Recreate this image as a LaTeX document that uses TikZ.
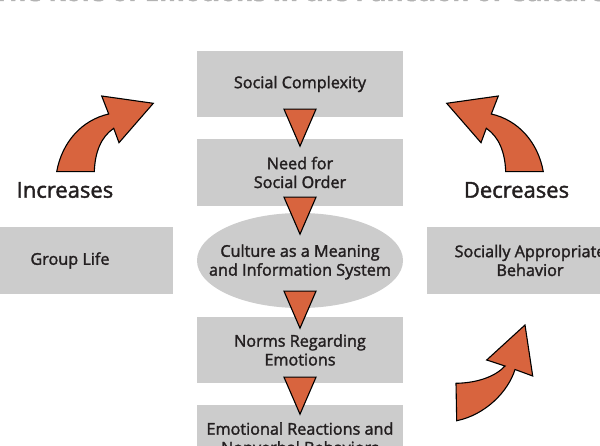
\documentclass[tikz,border=0pt]{standalone}
\usepackage{fontspec}
\setmainfont{Open Sans}[RawFeature={embolden=1.8}]
\usetikzlibrary{shapes.geometric,calc}
\definecolor{boxgray}{RGB}{204,204,204}
\definecolor{arrorange}{RGB}{216,100,62}
\definecolor{txt}{RGB}{35,31,32}
\newcommand\downtri[1]{\draw[tri] ($(#1)+(-16,0)$) -- ($(#1)+(16,0)$) -- ($(#1)+(0,37)$) -- cycle;}
\begin{document}
\begin{tikzpicture}[x=1pt,y=-1pt,
  box/.style={fill=boxgray, minimum width=206pt, minimum height=66pt, inner sep=0pt, align=center, text=txt, font=\fontsize{16.2}{18.8}\selectfont},
  ell/.style={ellipse, fill=boxgray, minimum width=206pt, minimum height=95pt, inner sep=0pt},
  txtstyle/.style={align=center, text=txt, font=\fontsize{16.2}{18.8}\selectfont, inner sep=0pt},
  tri/.style={fill=arrorange, draw=black, line width=1.1pt, line join=miter},
  bigarrow/.style={fill=arrorange, draw=black, line width=1.1pt, line join=miter},
  lbl/.style={text=txt, font=\fontsize{22}{24}\selectfont, inner sep=0pt}]
\useasboundingbox (0,0) rectangle (600,446);
\begin{scope}
\clip (0,0) rectangle (600,446);
\node[anchor=base, font=\fontsize{26}{30}\selectfont\bfseries, text=black!30] (title) at (300,1) {The Role of Emotions in the Function of Culture};
% central column
\node[box, minimum height=66pt] (sc) at (300,84) {Social Complexity};
\node[box, minimum height=67pt] (nso) at (300,172.5) {Need for\\Social Order};
\node[ell] (cu) at (300,260.5) {};
\node[txtstyle] (cut) at (300,262) {Culture as a Meaning\\and Information System};
\node[box, minimum height=66pt] (nre) at (300,350) {Norms Regarding\\Emotions};
\node[box, minimum height=66pt] (er) at (300,438) {Emotional Reactions and\\Nonverbal Behaviors};
% side boxes
\node[box, minimum height=67pt] (gl) at (70,260.5) {Group Life};
\node[box, minimum height=67pt] (sab) at (530,260.5) {Socially Appropriate\\Behavior};
% triangles
\coordinate (t1) at ($(sc.south)+(0,-8)$);
\coordinate (t2) at ($(nso.south)+(0,-9)$);
\coordinate (t3) at ($(cu.south)+(0,-17)$);
\coordinate (t4) at ($(nre.south)+(0,-6)$);
\downtri{t1}
\downtri{t2}
\downtri{t3}
\downtri{t4}
% labels
\node[lbl] (inc) at (65,190) {Increases};
\node[lbl] (dec) at (516.5,190) {Decreases};
% curved arrows
\draw[bigarrow] (56.7,171.7) .. controls (62,142) and (82,120) .. (108.7,114) -- (101.7,96) -- (153.3,103.3) -- (119,142.7) -- (113.7,128.3) .. controls (101,137) and (95,152) .. (94.3,171.7) -- cycle;
\draw[bigarrow] (543.3,171.7) .. controls (538,142) and (518,120) .. (491.3,114) -- (498.3,96) -- (446.7,103.3) -- (481,142.7) -- (486.3,128.3) .. controls (499,137) and (505,152) .. (505.7,171.7) -- cycle;
\draw[bigarrow] (456,383.3) .. controls (478,383) and (496,376) .. (505,366) -- (486.7,360) -- (525,325) -- (532.7,376) -- (515,369.5) .. controls (508,392) and (485,415) .. (456.7,420.7) -- cycle;
\end{scope}
\end{tikzpicture}
\end{document}
